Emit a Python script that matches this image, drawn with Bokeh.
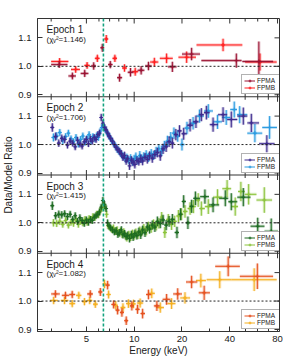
import numpy as np
from bokeh.plotting import figure
from bokeh.models import (ColumnDataSource, Range1d, FixedTicker, PrintfTickFormatter,
                          CustomJSTickFormatter, Span, Label, Legend, LegendItem)
from bokeh.embed import file_html
from bokeh.resources import INLINE

FONT = "Liberation Sans"

# ---------------- axes / labels ----------------
x_major_ticks = [5, 10, 20, 40, 80]
x_minor_ticks = [3, 4, 6, 7, 8, 9, 30, 50, 60, 70]
y_tick_values = [0.9, 1.0, 1.1]
energy_limits = (2.46, 82.3)
ratio_limits = (0.893, 1.168)
fe_line_energy = 6.4
epoch_labels = ["Epoch 1", "Epoch 2", "Epoch 3", "Epoch 4"]
chi2_values = ["1.146", "1.706", "1.415", "1.082"]
module_labels = ["FPMA", "FPMB"]
x_title = "Energy (keV)"
y_title = "Data/Model Ratio"

# ---------------- Epoch 1 ----------------
e1a_energy = [3.37, 4.08, 4.88, 5.56, 6.30, 7.07, 8.09, 9.48, 11.06, 12.3, 17.4, 23.0, 44.0, 61.0]
e1a_ratio = [1.006, 0.966, 0.975, 1.001, 1.065, 1.006, 0.960, 0.979, 0.986, 1.001, 0.998, 1.043, 1.020, 1.017]
e1a_lo = [3.0, 3.85, 4.6, 5.35, 6.15, 6.85, 7.8, 9.1, 10.5, 11.7, 16.3, 20.0, 26.5, 48.0]
e1a_hi = [3.8, 4.3, 5.15, 5.75, 6.45, 7.3, 8.4, 9.9, 11.6, 12.9, 18.5, 26.0, 47.5, 75.0]
e1a_err = [0.012, 0.012, 0.013, 0.013, 0.014, 0.013, 0.014, 0.015, 0.015, 0.015, 0.018, 0.022, 0.025, 0.07]

e1b_energy = [3.39, 4.28, 5.05, 5.86, 6.67, 7.56, 8.69, 10.15, 13.4, 16.0, 21.4, 36.3, 62.0]
e1b_ratio = [1.017, 0.989, 1.003, 1.028, 1.096, 1.028, 0.994, 0.981, 1.015, 1.028, 1.032, 1.075, 1.015]
e1b_lo = [3.0, 4.0, 4.85, 5.65, 6.5, 7.3, 8.4, 9.7, 12.6, 14.5, 19.0, 24.7, 50.0]
e1b_hi = [3.85, 4.55, 5.25, 6.05, 6.85, 7.8, 9.0, 10.6, 14.2, 17.5, 24.5, 48.0, 79.0]
e1b_err = [0.012, 0.012, 0.012, 0.013, 0.014, 0.013, 0.013, 0.014, 0.015, 0.017, 0.02, 0.022, 0.03]

# ---------------- Epoch 2 ----------------
e2a_energy = [3.05, 3.2, 3.35, 3.5, 3.65, 3.8, 3.95, 4.1, 4.25, 4.4, 4.55, 4.7, 4.85, 5.0, 5.15, 5.3, 5.45, 5.6, 5.75, 5.9,
              6.05, 6.2, 6.35, 6.5, 6.65, 6.8, 6.95, 7.1,
              7.3, 7.5, 7.7, 7.9, 8.1, 8.3, 8.5, 8.7, 8.9, 9.1,
              9.35, 9.6, 9.85, 10.1, 10.4, 10.7, 11.0, 11.3,
              11.7, 12.1, 12.5, 13.0, 13.5, 14.0,
              14.6, 15.2, 15.9, 16.6, 17.4,
              18.3, 19.3, 20.5, 22.5, 24.5, 26.5, 28.5, 31.4, 36.3, 40.9, 48.7, 54.7, 68.5]
e2a_ratio = [1.060, 1.028, 1.005, 1.022, 1.018, 0.998, 1.012, 1.005, 0.992, 1.015, 1.002, 0.995, 1.010, 1.018, 1.003, 1.020, 1.012, 1.025, 1.018, 1.035,
             1.040, 1.095, 1.075, 1.060, 1.052, 1.040, 1.030, 1.022,
             1.012, 1.000, 0.990, 0.982, 0.975, 0.968, 0.955, 0.962, 0.942, 0.950,
             0.925, 0.945, 0.938, 0.930, 0.944, 0.940, 0.950, 0.942,
             0.955, 0.948, 0.960, 0.952, 0.965, 0.972,
             0.960, 0.985, 0.992, 1.010, 1.005,
             1.035, 1.048, 1.038, 1.068, 1.080, 1.105, 1.112, 1.070, 1.105, 1.088, 1.100, 1.076, 1.003]
e2a_err = [0.015, 0.014, 0.013, 0.013, 0.013, 0.012, 0.012, 0.012, 0.012, 0.012, 0.012, 0.012, 0.012, 0.012, 0.012, 0.012, 0.012, 0.012, 0.012, 0.012,
           0.012, 0.013, 0.012, 0.012, 0.012, 0.012, 0.012, 0.012,
           0.012, 0.012, 0.012, 0.012, 0.013, 0.013, 0.013, 0.013, 0.013, 0.013,
           0.014, 0.014, 0.014, 0.014, 0.014, 0.014, 0.015, 0.015,
           0.015, 0.015, 0.016, 0.016, 0.016, 0.017,
           0.017, 0.018, 0.018, 0.019, 0.019,
           0.020, 0.020, 0.021, 0.022, 0.022, 0.023, 0.024, 0.025, 0.026, 0.028, 0.030, 0.032, 0.030]

e2b_energy = [3.1, 3.25, 3.4, 3.55, 3.7, 3.85, 4.0, 4.15, 4.3, 4.45, 4.6, 4.75, 4.9, 5.05, 5.2, 5.35, 5.5, 5.65, 5.8, 5.95,
              6.1, 6.25, 6.4, 6.55, 6.7, 6.85, 7.0,
              7.2, 7.4, 7.6, 7.8, 8.0, 8.2, 8.4, 8.6, 8.8, 9.0,
              9.25, 9.5, 9.75, 10.0, 10.25, 10.55, 10.85, 11.15,
              11.5, 11.9, 12.3, 12.8, 13.25, 13.75,
              14.3, 14.9, 15.5, 16.2, 17.0,
              17.8, 18.8, 20.0, 21.5, 23.5, 25.8, 29.3, 33.5, 38.0, 42.7, 46.2, 57.6, 71.3]
e2b_ratio = [1.025, 1.030, 1.042, 1.015, 1.028, 1.040, 1.020, 1.010, 1.025, 1.002, 1.018, 1.030, 1.008, 1.022, 1.035, 1.012, 1.028, 1.020, 1.030, 1.025,
             1.045, 1.060, 1.068, 1.055, 1.045, 1.035, 1.028,
             1.015, 1.005, 0.995, 0.985, 0.978, 0.970, 0.962, 0.958, 0.950, 0.955,
             0.945, 0.952, 0.940, 0.950, 0.958, 0.945, 0.962, 0.950,
             0.958, 0.965, 0.955, 0.968, 0.962, 0.975,
             0.985, 0.978, 0.995, 1.012, 1.025,
             1.040, 1.030, 1.000, 1.058, 1.075, 1.100, 1.118, 1.080, 1.095, 1.123, 1.105, 1.040, 1.060]
e2b_err = [0.014, 0.013, 0.013, 0.013, 0.012, 0.012, 0.012, 0.012, 0.012, 0.012, 0.012, 0.012, 0.012, 0.012, 0.012, 0.012, 0.012, 0.012, 0.012, 0.012,
           0.012, 0.012, 0.012, 0.012, 0.012, 0.012, 0.012,
           0.012, 0.012, 0.012, 0.013, 0.013, 0.013, 0.013, 0.013, 0.013, 0.013,
           0.014, 0.014, 0.014, 0.014, 0.014, 0.015, 0.015, 0.015,
           0.015, 0.015, 0.016, 0.016, 0.016, 0.017,
           0.017, 0.018, 0.018, 0.019, 0.019,
           0.020, 0.020, 0.021, 0.022, 0.022, 0.023, 0.024, 0.025, 0.026, 0.028, 0.030, 0.032, 0.040]

# ---------------- Epoch 3 ----------------
e3a_energy = [3.05, 3.2, 3.35, 3.5, 3.65, 3.8, 3.95, 4.1, 4.25, 4.4, 4.55, 4.7, 4.85, 5.0, 5.15, 5.3, 5.45, 5.6, 5.75, 5.9,
              6.05, 6.2, 6.35, 6.5, 6.65, 6.8, 6.95, 7.1,
              7.3, 7.5, 7.7, 7.9, 8.1, 8.3, 8.5, 8.7, 8.9, 9.1,
              9.35, 9.6, 9.85, 10.1, 10.4, 10.7, 11.0, 11.3,
              11.7, 12.1, 12.5, 13.0, 13.5, 14.0,
              14.6, 15.2, 15.9, 16.6, 17.4,
              18.6, 19.6, 20.5, 21.8, 23.0, 24.3, 27.9, 31.4, 37.5, 40.9, 48.7, 60.0, 73.0]
e3a_ratio = [1.060, 1.025, 1.030, 1.028, 1.032, 1.022, 1.030, 1.012, 1.025, 1.005, 1.018, 1.008, 0.998, 1.010, 1.002, 1.012, 1.008, 1.020, 1.025, 1.030,
             1.038, 1.055, 1.078, 1.065, 1.050, 1.000, 0.988, 0.982,
             0.975, 0.968, 0.972, 0.960, 0.965, 0.975, 0.958, 0.962, 0.952, 0.955,
             0.945, 0.958, 0.950, 0.962, 0.955, 0.968, 0.958, 0.975,
             0.965, 0.985, 0.978, 0.992, 0.985, 1.005,
             0.998, 1.010, 0.992, 1.005, 1.012,
             0.966, 1.030, 1.075, 1.000, 1.058, 1.086, 1.092, 1.063, 1.086, 1.074, 1.090, 0.988, 0.970]
e3a_err = [0.015, 0.013, 0.013, 0.013, 0.012, 0.012, 0.012, 0.012, 0.012, 0.012, 0.012, 0.012, 0.012, 0.012, 0.012, 0.012, 0.012, 0.012, 0.012, 0.012,
           0.012, 0.012, 0.013, 0.012, 0.012, 0.012, 0.012, 0.012,
           0.012, 0.012, 0.013, 0.013, 0.013, 0.013, 0.013, 0.013, 0.013, 0.014,
           0.014, 0.014, 0.014, 0.014, 0.014, 0.015, 0.015, 0.015,
           0.015, 0.016, 0.016, 0.016, 0.017, 0.017,
           0.017, 0.018, 0.018, 0.019, 0.019,
           0.020, 0.021, 0.022, 0.022, 0.023, 0.024, 0.025, 0.026, 0.028, 0.030, 0.032, 0.030, 0.045]

e3b_energy = [3.1, 3.25, 3.4, 3.55, 3.7, 3.85, 4.0, 4.15, 4.3, 4.45, 4.6, 4.75, 4.9, 5.05, 5.2, 5.35, 5.5, 5.65, 5.8, 5.95,
              6.1, 6.25, 6.4, 6.55, 6.7, 6.85, 7.0,
              7.2, 7.4, 7.6, 7.8, 8.0, 8.2, 8.4, 8.6, 8.8, 9.0,
              9.25, 9.5, 9.75, 10.0, 10.25, 10.55, 10.85, 11.15,
              11.5, 11.9, 12.3, 12.8, 13.25, 13.75,
              14.3, 14.9, 15.6, 16.4, 17.2,
              18.0, 19.0, 19.8, 20.9, 22.5, 23.6, 25.3, 26.5, 29.3, 33.5, 38.5, 43.3, 47.0, 52.6, 66.0]
e3b_ratio = [1.000, 0.998, 1.005, 0.995, 1.008, 0.992, 1.002, 0.998, 1.010, 0.995, 1.005, 1.000, 1.012, 1.002, 1.015, 1.010, 1.022, 1.018, 1.030, 1.028,
             1.042, 1.050, 1.062, 1.055, 1.030, 0.990, 0.985,
             0.978, 0.982, 0.970, 0.975, 0.965, 0.970, 0.960, 0.968, 0.955, 0.948,
             0.958, 0.950, 0.962, 0.955, 0.965, 0.958, 0.972, 0.968,
             0.980, 0.972, 0.988, 0.982, 0.995, 0.990,
             0.998, 1.020, 0.966, 1.012, 0.995,
             1.005, 1.024, 1.030, 1.040, 1.050, 1.057, 1.080, 1.050, 1.057, 1.090, 1.120, 1.057, 1.110, 1.100, 1.080]
e3b_err = [0.013, 0.013, 0.013, 0.012, 0.012, 0.012, 0.012, 0.012, 0.012, 0.012, 0.012, 0.012, 0.012, 0.012, 0.012, 0.012, 0.012, 0.012, 0.012, 0.012,
           0.012, 0.012, 0.012, 0.012, 0.012, 0.012, 0.012,
           0.012, 0.012, 0.013, 0.013, 0.013, 0.013, 0.013, 0.013, 0.013, 0.014,
           0.014, 0.014, 0.014, 0.014, 0.015, 0.015, 0.015, 0.015,
           0.016, 0.016, 0.016, 0.017, 0.017, 0.017,
           0.018, 0.018, 0.019, 0.019, 0.020,
           0.020, 0.021, 0.021, 0.022, 0.022, 0.023, 0.024, 0.025, 0.026, 0.028, 0.030, 0.032, 0.034, 0.036, 0.045]

# ---------------- Epoch 4 ----------------
e4a_energy = [3.19, 3.69, 4.07, 5.29, 6.12, 6.80, 7.42, 7.86, 8.37, 8.91, 9.67, 10.5, 11.3, 12.3, 13.9, 16.0, 18.8, 23.0, 27.6, 39.1, 59.7]
e4a_ratio = [1.025, 1.020, 1.023, 1.025, 1.032, 1.056, 0.988, 0.968, 0.960, 0.931, 0.983, 0.971, 0.956, 1.023, 0.983, 1.006, 1.025, 1.067, 1.029, 1.122, 1.087]
e4a_lo = [3.0, 3.5, 3.9, 5.05, 5.95, 6.6, 7.2, 7.65, 8.15, 8.7, 9.4, 10.2, 11.0, 11.9, 13.3, 15.1, 17.6, 21.2, 25.5, 32.4, 46.3]
e4a_hi = [3.4, 3.9, 4.25, 5.5, 6.3, 7.0, 7.6, 8.05, 8.6, 9.15, 9.95, 10.8, 11.7, 12.8, 14.5, 16.9, 20.0, 25.0, 30.0, 46.3, 75.0]
e4a_err = [0.013, 0.013, 0.013, 0.013, 0.014, 0.015, 0.014, 0.015, 0.015, 0.015, 0.016, 0.016, 0.017, 0.017, 0.018, 0.019, 0.020, 0.022, 0.025, 0.035, 0.045]

e4b_energy = [3.11, 3.64, 4.07, 4.48, 4.86, 5.25, 5.69, 6.50, 6.90, 7.65, 8.50, 9.20, 9.90, 10.9, 12.9, 14.6, 17.2, 20.9, 26.3, 34.6, 57.0]
e4b_ratio = [1.002, 1.002, 0.991, 1.020, 0.998, 1.002, 0.989, 1.060, 1.023, 0.985, 0.977, 0.991, 0.990, 0.993, 1.027, 0.977, 0.991, 1.011, 1.072, 1.075, 1.075]
e4b_lo = [2.95, 3.45, 3.9, 4.3, 4.7, 5.05, 5.5, 6.35, 6.7, 7.4, 8.2, 8.9, 9.6, 10.4, 12.3, 13.8, 16.2, 19.5, 24.5, 28.6, 41.0]
e4b_hi = [3.3, 3.85, 4.25, 4.65, 5.05, 5.45, 5.9, 6.65, 7.1, 7.9, 8.8, 9.5, 10.2, 11.4, 13.5, 15.4, 18.2, 22.5, 28.3, 41.0, 79.0]
e4b_err = [0.013, 0.013, 0.013, 0.013, 0.013, 0.013, 0.013, 0.015, 0.014, 0.015, 0.015, 0.015, 0.015, 0.016, 0.017, 0.018, 0.019, 0.020, 0.024, 0.030, 0.040]

# colours (FPMA, FPMB) for each epoch
epoch_colors = [("#9a1232", "#ff1f1f"),
                ("#3d2a8e", "#2a9be0"),
                ("#1d6b22", "#8cc43c"),
                ("#e5501e", "#f5b020")]


def bin_edges(energy):
    """Channel edges halfway (in log E) between neighbouring bins."""
    le = np.log(np.asarray(energy, dtype=float))
    mid = 0.5 * (le[:-1] + le[1:])
    lo = np.concatenate([[le[0] - (mid[0] - le[0])], mid])
    hi = np.concatenate([mid, [le[-1] + (le[-1] - mid[-1])]])
    return np.exp(lo), np.exp(hi)


def series(energy, ratio, err, lo=None, hi=None):
    if lo is None:
        lo, hi = bin_edges(energy)
    r = np.asarray(ratio, dtype=float)
    e = np.asarray(err, dtype=float)
    return ColumnDataSource(dict(e=list(energy), r=list(r), lo=list(lo), hi=list(hi),
                                 rlo=list(r - e), rhi=list(r + e)))


epochs = [
    (series(e1a_energy, e1a_ratio, e1a_err, e1a_lo, e1a_hi), series(e1b_energy, e1b_ratio, e1b_err, e1b_lo, e1b_hi)),
    (series(e2a_energy, e2a_ratio, e2a_err), series(e2b_energy, e2b_ratio, e2b_err)),
    (series(e3a_energy, e3a_ratio, e3a_err), series(e3b_energy, e3b_ratio, e3b_err)),
    (series(e4a_energy, e4a_ratio, e4a_err, e4a_lo, e4a_hi), series(e4b_energy, e4b_ratio, e4b_err, e4b_lo, e4b_hi)),
]

# ---------------- stacked panels: one frame, four slots ----------------
AX_COLOR = "#333333"
TEXT_COLOR = "#1a1a1a"
N = 4
FRAME_W, FRAME_H = 242, 313
SLOT = FRAME_H / N
MAJOR_PX, MINOR_PX = 5, 3
r_lo, r_hi = ratio_limits
r_span = r_hi - r_lo

p = figure(x_axis_type="log", x_range=Range1d(*energy_limits), y_range=Range1d(0, N),
           frame_width=FRAME_W, frame_height=FRAME_H,
           min_border_left=37, min_border_right=14, min_border_top=18, min_border_bottom=31,
           output_backend="svg", toolbar_location=None)
p.grid.visible = False
p.outline_line_color = AX_COLOR
p.outline_line_width = 1
p.background_fill_color = "white"
p.border_fill_color = "white"

for k in range(N):
    p.extra_y_ranges[f"e{k}"] = Range1d(r_lo - (N - 1 - k) * r_span, r_lo + (k + 1) * r_span)

# bottom energy axis
xa = p.xaxis[0]
xa.ticker = FixedTicker(ticks=x_major_ticks, minor_ticks=x_minor_ticks)
xa.formatter = PrintfTickFormatter(format="%d")
xa.major_tick_in, xa.major_tick_out = MAJOR_PX, 0
xa.minor_tick_in, xa.minor_tick_out = MINOR_PX, 0
xa.axis_line_color = AX_COLOR
xa.major_tick_line_color = AX_COLOR
xa.minor_tick_line_color = AX_COLOR
xa.major_label_text_font = FONT
xa.major_label_text_font_size = "9.5px"
xa.major_label_text_color = TEXT_COLOR
xa.major_label_standoff = 4
xa.axis_label = x_title
xa.axis_label_text_font = FONT
xa.axis_label_text_font_size = "10px"
xa.axis_label_text_font_style = "normal"
xa.axis_label_text_color = TEXT_COLOR
xa.axis_label_standoff = 0

# left ratio axis: ticks at each slot's 0.9 / 1.0 / 1.1
y_tick_positions = [(N - 1 - k) + (v - r_lo) / r_span for k in range(N) for v in y_tick_values]
ya = p.yaxis[0]
ya.ticker = FixedTicker(ticks=y_tick_positions, minor_ticks=[])
ya.formatter = CustomJSTickFormatter(args=dict(lo=r_lo, span=r_span),
                                     code="const f = tick - Math.floor(tick + 1e-9); return (lo + f * span).toFixed(1);")
ya.major_tick_in, ya.major_tick_out = MAJOR_PX, 0
ya.axis_line_color = AX_COLOR
ya.major_tick_line_color = AX_COLOR
ya.major_label_text_font = FONT
ya.major_label_text_font_size = "9.5px"
ya.major_label_text_color = TEXT_COLOR
ya.major_label_standoff = 6
ya.axis_label = y_title
ya.axis_label_text_font = FONT
ya.axis_label_text_font_size = "10px"
ya.axis_label_text_font_style = "normal"
ya.axis_label_text_color = TEXT_COLOR
ya.axis_label_standoff = 1

# panel separators and mirrored inward ticks
for b in range(1, N):
    p.add_layout(Span(location=b, dimension="width", line_color=AX_COLOR, line_width=1.2))

y_per_px = N / FRAME_H
tx, ty0, ty1 = [], [], []
for b in range(1, N + 1):
    for ticks, px in ((x_major_ticks, MAJOR_PX), (x_minor_ticks, MINOR_PX)):
        for t in ticks:
            tx.append(t)
            ty0.append(b - px * y_per_px)
            ty1.append(b + px * y_per_px if b < N else b)
p.segment(x0=tx, y0=ty0, x1=tx, y1=ty1, line_color=AX_COLOR, line_width=1)

x_lo_lim, x_hi_lim = energy_limits
right_tick_start = x_hi_lim * (x_lo_lim / x_hi_lim) ** (MAJOR_PX / FRAME_W)
p.segment(x0=[right_tick_start] * len(y_tick_positions), y0=y_tick_positions,
          x1=[x_hi_lim] * len(y_tick_positions), y1=y_tick_positions,
          line_color=AX_COLOR, line_width=1)

p.add_layout(Span(location=fe_line_energy, dimension="height", line_color="#14a37f",
                  line_dash="3 2", line_width=1.6))

for k in range(N):
    rn = f"e{k}"
    p.add_layout(Span(location=1.0, dimension="width", y_range_name=rn, line_color="#222222",
                      line_dash="2 2", line_width=1))
    src_a, src_b = epochs[k]
    col_a, col_b = epoch_colors[k]
    handles = []
    for src, col in ((src_b, col_b), (src_a, col_a)):
        p.segment(x0="lo", y0="r", x1="hi", y1="r", source=src, y_range_name=rn,
                  line_color=col, line_width=3, line_alpha=0.3)
        p.segment(x0="e", y0="rlo", x1="e", y1="rhi", source=src, y_range_name=rn,
                  line_color=col, line_width=3, line_alpha=0.3)
        hseg = p.segment(x0="lo", y0="r", x1="hi", y1="r", source=src, y_range_name=rn,
                         line_color=col, line_width=1)
        p.segment(x0="e", y0="rlo", x1="e", y1="rhi", source=src, y_range_name=rn,
                  line_color=col, line_width=1)
        mk = p.scatter(x="e", y="r", source=src, y_range_name=rn, marker="cross", size=4,
                       line_color=col, line_width=1)
        handles.append((hseg, mk))
    (hb, mb), (ha, ma) = handles

    slot_bottom = (N - 1 - k) * SLOT
    slot_top = (N - k) * SLOT
    legend = Legend(items=[LegendItem(label=module_labels[0], renderers=[ha, ma]),
                           LegendItem(label=module_labels[1], renderers=[hb, mb])],
                    location=(FRAME_W - 38, slot_bottom + 2), margin=0, padding=2, spacing=0,
                    label_text_font=FONT, label_text_font_size="6.5px", label_text_color=TEXT_COLOR,
                    label_height=7, glyph_height=7, glyph_width=11, label_standoff=2,
                    border_line_color="#666666", border_line_width=1,
                    background_fill_color="white", background_fill_alpha=1.0)
    p.add_layout(legend)

    p.add_layout(Label(x=9, y=slot_top - 5.5, x_units="screen", y_units="screen", text=epoch_labels[k],
                       text_font=FONT, text_font_size="10px", text_baseline="top", text_color=TEXT_COLOR))
    p.add_layout(Label(x=9, y=slot_top - 16, x_units="screen", y_units="screen",
                       text="(\u03c7\u1d65\u00b2=" + chi2_values[k] + ")",
                       text_font=FONT, text_font_size="8px", text_baseline="top", text_color=TEXT_COLOR))

with open("out.html", "w") as f:
    f.write(file_html(p, INLINE))
